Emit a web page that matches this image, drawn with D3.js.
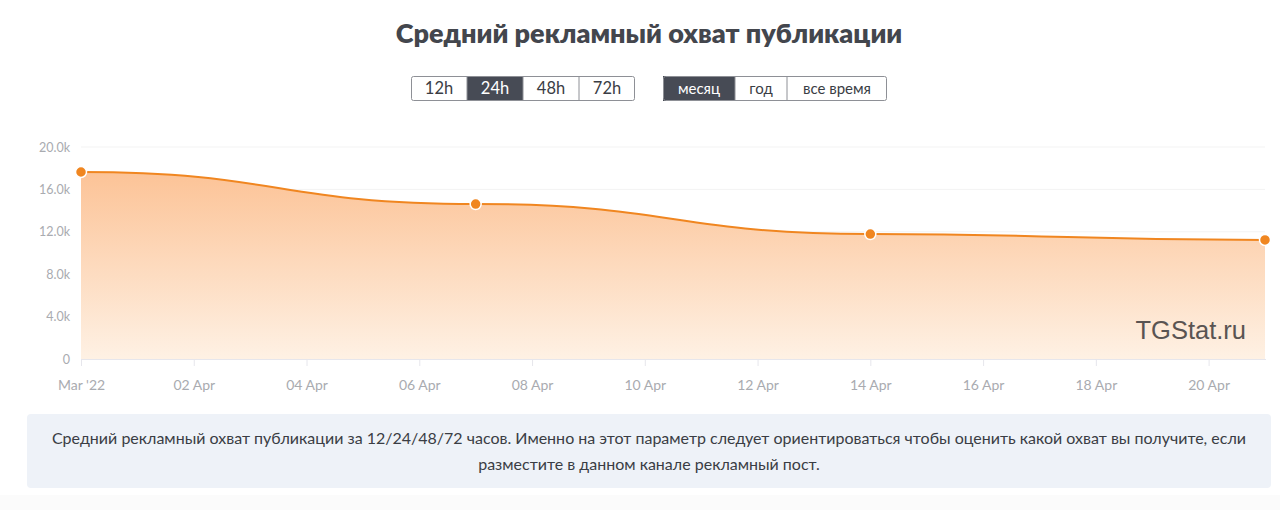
<!DOCTYPE html>
<html>
<head>
<meta charset="utf-8">
<script src="https://cdn.jsdelivr.net/npm/d3@7"></script>
<style>
  body { margin: 0; background: #fff; }
  svg { display: block; }
</style>
</head>
<body>
<svg id="chart" width="1280" height="510"></svg>
<script>
// values (weekly points)
const dates = ["2022-03-31", "2022-04-07", "2022-04-14", "2022-04-21"];
const reach = [17640, 14620, 11790, 11230];
const yTicks = [0, 4000, 8000, 12000, 16000, 20000];
const hourButtons = ["12h", "24h", "48h", "72h"];
const periodButtons = ["месяц", "год", "все время"];
const activeHour = "24h";
const activePeriod = "месяц";

const parse = d3.timeParse("%Y-%m-%d");
const points = dates.map((d, i) => ({date: parse(d), value: reach[i]}));

const svg = d3.select("#chart");
const font = "Lato, 'Noto Sans', sans-serif";

const plotLeft = 81;
const plotRight = 1265;
const plotTop = 147;
const plotBottom = 359;

// title
svg.append("text")
    .text("Средний рекламный охват публикации")
    .attr("x", 649)
    .attr("y", 43)
    .attr("text-anchor", "middle")
    .attr("font-family", font)
    .attr("font-weight", 800)
    .attr("font-size", 27)
    .attr("fill", "#43464d");

// button groups
const drawButtons = (labels, widths, x0, active) =>
{
    const g = svg.append("g");
    let x = x0;
    labels.forEach((label, i) =>
    {
        const w = widths[i];
        g.append("rect")
            .attr("x", x)
            .attr("y", 76)
            .attr("width", w)
            .attr("height", 25)
            .attr("fill", label === active ? "#474b55" : "#fff");
        g.append("text")
            .text(label)
            .attr("x", x + w / 2)
            .attr("y", 94)
            .attr("text-anchor", "middle")
            .attr("font-family", font)
            .attr("font-size", label.endsWith("h") ? 16.5 : 15)
            .attr("fill", label === active ? "#fff" : "#3a3d44");
        if (i > 0)
        {
            g.append("line")
                .attr("x1", x).attr("x2", x)
                .attr("y1", 76).attr("y2", 101)
                .attr("stroke", "#8e9096");
        }
        x += w;
    });
    g.append("rect")
        .attr("x", x0 + 0.5)
        .attr("y", 76.5)
        .attr("width", x - x0 - 1)
        .attr("height", 24)
        .attr("rx", 2)
        .attr("fill", "none")
        .attr("stroke", "#8e9096");
}
drawButtons(hourButtons, [56, 56, 56, 56], 411, activeHour);
drawButtons(periodButtons, [72, 52, 100], 663, activePeriod);

// scales
const x = d3.scaleTime()
    .domain(d3.extent(points, d => d.date))
    .range([plotLeft, plotRight]);
const y = d3.scaleLinear()
    .domain([0, 20000])
    .range([plotBottom, plotTop]);

// gridlines
svg.append("g")
    .selectAll("line")
    .data(yTicks.slice(1))
    .join("line")
    .attr("x1", plotLeft)
    .attr("x2", plotRight)
    .attr("y1", d => y(d))
    .attr("y2", d => y(d))
    .attr("stroke", "#f3f3f3");

// y axis labels
const yAxis = d3.axisLeft(y)
    .tickValues(yTicks)
    .tickSize(0)
    .tickPadding(11)
    .tickFormat(d => d === 0 ? "0" : (d / 1000).toFixed(1) + "k");
svg.append("g")
    .attr("transform", `translate(${plotLeft},0)`)
    .call(yAxis)
    .call(g => g.select(".domain").remove())
    .call(g => g.selectAll("text")
        .attr("font-family", font)
        .attr("font-size", 12.5)
        .attr("fill", "#a9abb0"));

// gradient
const defs = svg.append("defs");
const grad = defs.append("linearGradient")
    .attr("id", "areaFill")
    .attr("gradientUnits", "userSpaceOnUse")
    .attr("x1", 0).attr("x2", 0)
    .attr("y1", y(18000)).attr("y2", plotBottom);
grad.append("stop").attr("offset", 0).attr("stop-color", "#fcc295");
grad.append("stop").attr("offset", 1).attr("stop-color", "#fef1e4");

const area = d3.area()
    .x(d => x(d.date))
    .y0(plotBottom)
    .y1(d => y(d.value))
    .curve(d3.curveBumpX);
const line = d3.line()
    .x(d => x(d.date))
    .y(d => y(d.value))
    .curve(d3.curveBumpX);

svg.append("path")
    .datum(points)
    .attr("d", area)
    .attr("fill", "url(#areaFill)");

// watermark
svg.append("text")
    .text("TGStat.ru")
    .attr("x", 1246)
    .attr("y", 339)
    .attr("text-anchor", "end")
    .attr("font-family", "'Liberation Sans', Arial, sans-serif")
    .attr("font-size", 25.5)
    .attr("fill", "#5a5452");

// x axis
const xTicks = d3.timeDay.range(parse("2022-03-31"), parse("2022-04-21"), 2);
const xAxis = d3.axisBottom(x)
    .tickValues(xTicks)
    .tickSize(7)
    .tickPadding(14)
    .tickFormat(d => d.getMonth() === 2 ? "Mar '22" : d3.timeFormat("%d Apr")(d));
svg.append("g")
    .attr("transform", `translate(0,${plotBottom})`)
    .call(xAxis)
    .call(g => g.select(".domain")
        .attr("d", `M${plotLeft},0.5H${plotRight + 1}`)
        .attr("stroke", "#e6e6ec"))
    .call(g => g.selectAll(".tick line").attr("stroke", "#e6e6ec"))
    .call(g => g.selectAll("text")
        .attr("font-family", font)
        .attr("font-size", 14)
        .attr("fill", "#a9abb0"));

// line and markers
svg.append("path")
    .datum(points)
    .attr("d", line)
    .attr("fill", "none")
    .attr("stroke", "#f08620")
    .attr("stroke-width", 2);

svg.append("g")
    .selectAll("circle")
    .data(points)
    .join("circle")
    .attr("cx", d => x(d.date))
    .attr("cy", d => y(d.value))
    .attr("r", 5.5)
    .attr("fill", "#f08620")
    .attr("stroke", "#fff")
    .attr("stroke-width", 1.5);

// info box
svg.append("rect")
    .attr("x", 0)
    .attr("y", 495)
    .attr("width", 1280)
    .attr("height", 15)
    .attr("fill", "#fbfbfb");
svg.append("rect")
    .attr("x", 27)
    .attr("y", 414)
    .attr("width", 1244)
    .attr("height", 74)
    .attr("rx", 4)
    .attr("fill", "#eef2f8");
const info = [
    "Средний рекламный охват публикации за 12/24/48/72 часов. Именно на этот параметр следует ориентироваться чтобы оценить какой охват вы получите, если",
    "разместите в данном канале рекламный пост."
];
svg.append("g")
    .selectAll("text")
    .data(info)
    .join("text")
    .text(d => d)
    .attr("x", 649)
    .attr("y", (d, i) => 444 + i * 26)
    .attr("text-anchor", "middle")
    .attr("font-family", font)
    .attr("font-size", 16)
    .attr("fill", "#3a3d44");
</script>
</body>
</html>
